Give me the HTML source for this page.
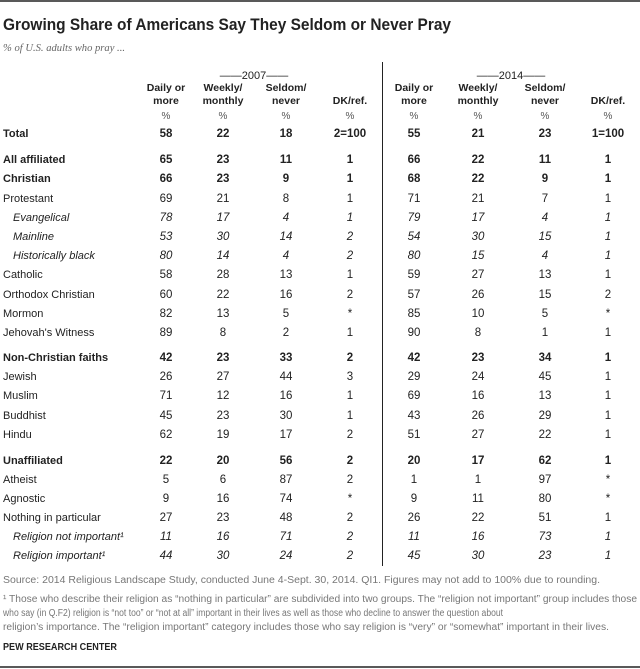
<!DOCTYPE html>
<html><head><meta charset="utf-8"><style>
html,body{margin:0;padding:0;background:#fff;}
svg{display:block;font-family:"Liberation Sans",sans-serif;}
</style></head><body>
<svg id="s" width="640" height="669" viewBox="0 0 640 669">
<line x1="0" y1="1" x2="640" y2="1" stroke="#222" stroke-width="1.5"/>
<text x="3" y="30" font-size="17" font-weight="bold" fill="#222" textLength="448" lengthAdjust="spacingAndGlyphs">Growing Share of Americans Say They Seldom or Never Pray</text>
<text x="3" y="51" font-size="11" font-style="italic" fill="#666" font-family="Liberation Serif,serif" textLength="122" lengthAdjust="spacingAndGlyphs">% of U.S. adults who pray ...</text>
<line x1="382.5" y1="62" x2="382.5" y2="566" stroke="#222" stroke-width="1"/>
<g id="hdr"></g>
<g id="rows"></g>
<text x="3" y="583" font-size="10" fill="#777" textLength="597" lengthAdjust="spacingAndGlyphs">Source: 2014 Religious Landscape Study, conducted June 4-Sept. 30, 2014. QI1. Figures may not add to 100% due to rounding.</text>
<text x="3" y="602" font-size="10" fill="#777" textLength="634" lengthAdjust="spacingAndGlyphs">¹ Those who describe their religion as “nothing in particular” are subdivided into two groups. The “religion not important” group includes those</text>
<text x="3" y="616" font-size="10" fill="#777" textLength="500" lengthAdjust="spacingAndGlyphs">who say (in Q.F2) religion is “not too” or “not at all” important in their lives as well as those who decline to answer the question about</text>
<text x="3" y="630" font-size="10" fill="#777" textLength="606" lengthAdjust="spacingAndGlyphs">religion’s importance. The “religion important” category includes those who say religion is “very” or “somewhat” important in their lives.</text>
<text x="3" y="650" font-size="10" font-weight="bold" fill="#222" textLength="114" lengthAdjust="spacingAndGlyphs">PEW RESEARCH CENTER</text>
<line x1="0" y1="667" x2="640" y2="667" stroke="#222" stroke-width="1.5"/>
</svg>
<script>
const labels=["Total","All affiliated","Christian","Protestant","Evangelical","Mainline","Historically black","Catholic","Orthodox Christian","Mormon","Jehovah's Witness","Non-Christian faiths","Jewish","Muslim","Buddhist","Hindu","Unaffiliated","Atheist","Agnostic","Nothing in particular","Religion not important¹","Religion important¹"];
const styles=["b","b","b","n","i","i","i","n","n","n","n","b","n","n","n","n","b","n","n","n","i","i"];
const daily07=["58","65","66","69","78","53","80","58","60","82","89","42","26","71","45","62","22","5","9","27","11","44"];
const weekly07=["22","23","23","21","17","30","14","28","22","13","8","23","27","12","23","19","20","6","16","23","16","30"];
const seldom07=["18","11","9","8","4","14","4","13","16","5","2","33","44","16","30","17","56","87","74","48","71","24"];
const dk07=["2=100","1","1","1","1","2","2","1","2","*","1","2","3","1","1","2","2","2","*","2","2","2"];
const daily14=["55","66","68","71","79","54","80","59","57","85","90","42","29","69","43","51","20","1","9","26","11","45"];
const weekly14=["21","22","22","21","17","30","15","27","26","10","8","23","24","16","26","27","17","1","11","22","16","30"];
const seldom14=["23","11","9","7","4","15","4","13","15","5","1","34","45","13","29","22","62","97","80","51","73","23"];
const dk14=["1=100","1","1","1","1","1","1","1","2","*","1","1","1","1","1","1","1","*","*","1","1","1"];
const rowY=[133,159,178,198,217,236,255,274,294,313,332,357,376,395,415,434,460,479,498,517,536,555];
const colX=[166,223,286,350,414,478,545,608];
const NS="http://www.w3.org/2000/svg";
function t(parent,x,y,s,o){const e=document.createElementNS(NS,"text");e.setAttribute("x",x);e.setAttribute("y",y);e.setAttribute("font-size",o.fs||11);e.setAttribute("fill",o.fill||"#222");if(o.anchor)e.setAttribute("text-anchor",o.anchor);if(o.b)e.setAttribute("font-weight","bold");if(o.i)e.setAttribute("font-style","italic");e.textContent=s;parent.appendChild(e);return e;}
const hdr=document.getElementById("hdr");
const heads=[["Daily or","more"],["Weekly/","monthly"],["Seldom/","never"],["","DK/ref."]];
[["——2007——",254],["——2014——",511]].forEach((y,k)=>{const e=t(hdr,y[1],79,y[0],{anchor:"middle",fs:11});

});
colX.forEach((x,c)=>{const h=heads[c%4];
if(h[0]){const a=t(hdr,x,91,h[0],{anchor:"middle",b:1,fs:10.5});

}
const b=t(hdr,x,104,h[1],{anchor:"middle",b:1,fs:10.5});


const p=t(hdr,x,119,"%",{anchor:"middle",fs:10,fill:"#555"});

});
const rows=document.getElementById("rows");
const cols=[daily07,weekly07,seldom07,dk07,daily14,weekly14,seldom14,dk14];
labels.forEach((l,r)=>{const st=styles[r];const o={b:st=="b",i:st=="i",fs:11.5};const y=rowY[r]+4;
const lx=st=="i"?13:3;
const le=t(rows,lx,y,l,{b:o.b,i:o.i,fs:11});


cols.forEach((arr,c)=>{const e=t(rows,colX[c],y,arr[r],{anchor:"middle",b:o.b,i:o.i,fs:11.5});

});});
</script>
</body></html>
